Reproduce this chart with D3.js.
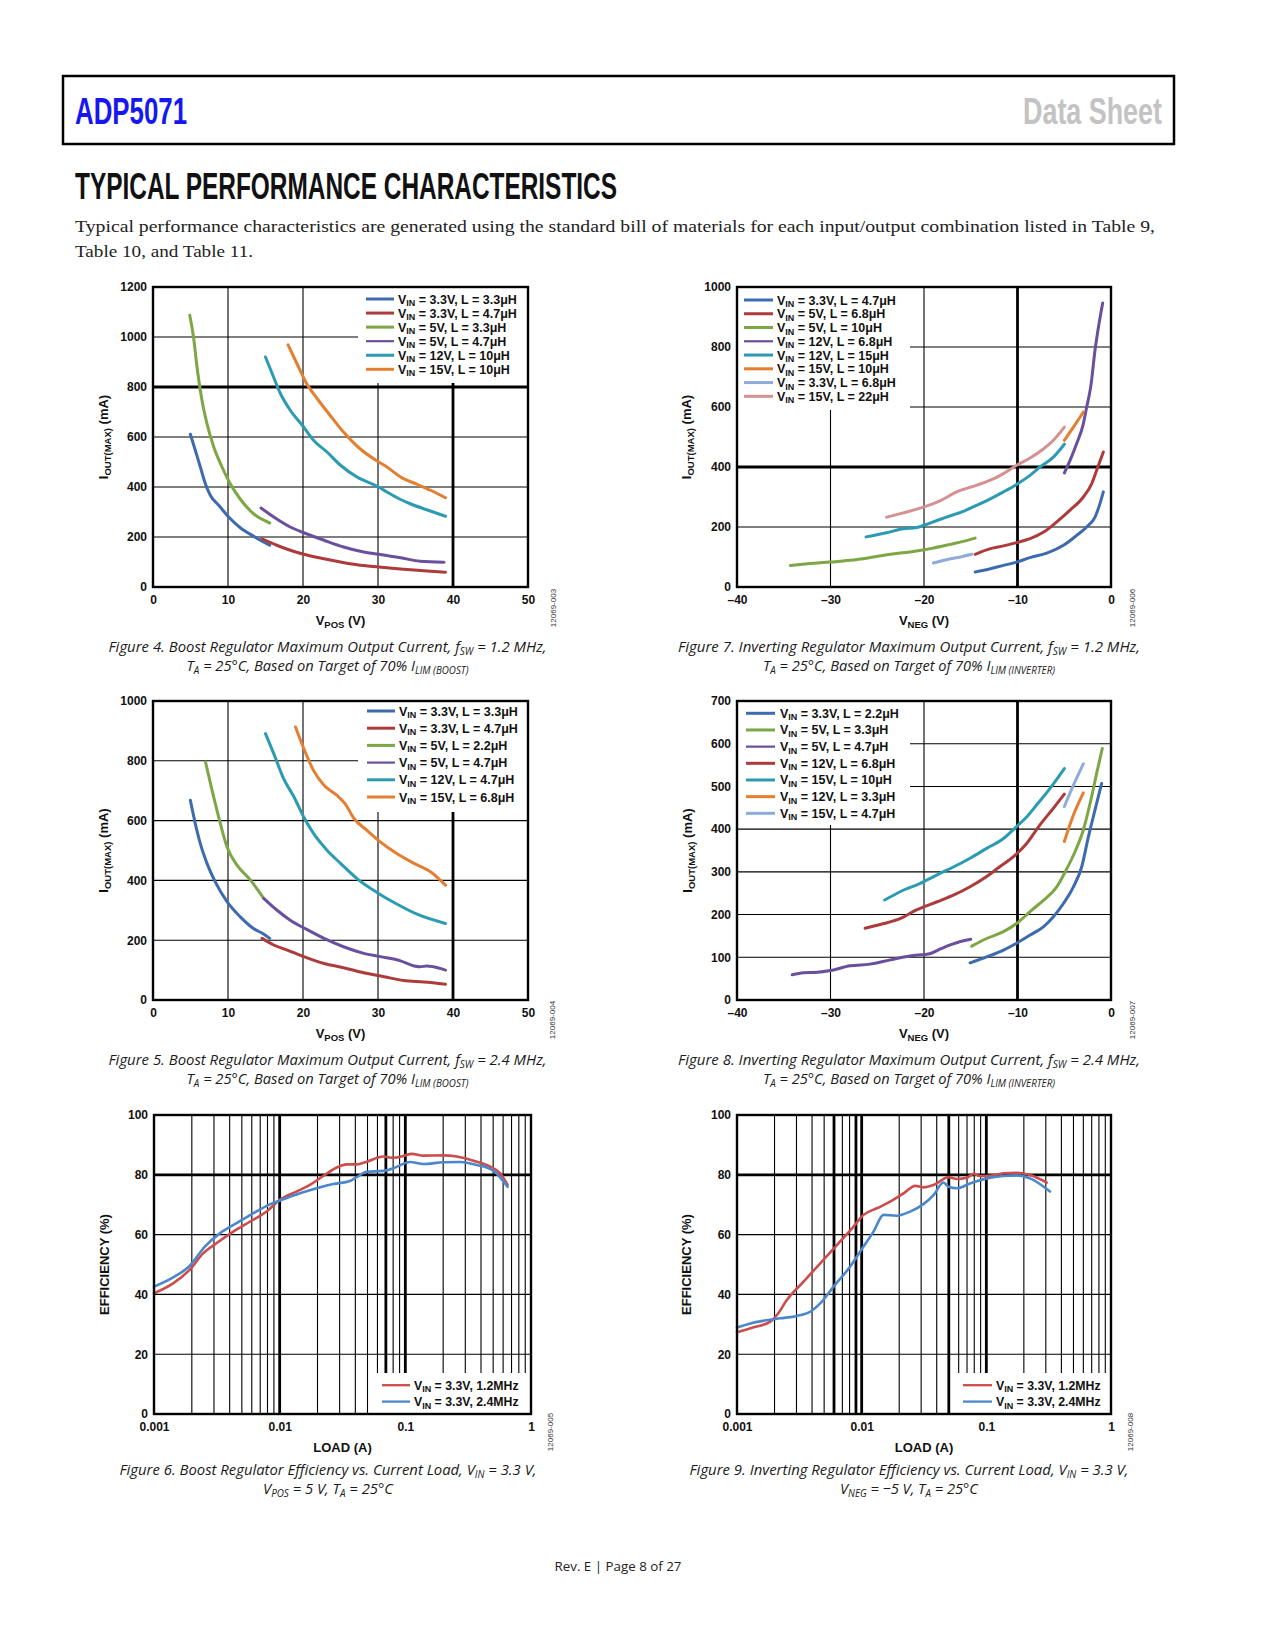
<!DOCTYPE html>
<html><head><meta charset="utf-8">
<script src="https://cdn.jsdelivr.net/npm/d3@7"></script>
<style>body{margin:0;background:#fff}svg{display:block}</style>
</head><body>
<script>
// ---------------- DATA ----------------
// Figure 4: boost, fsw = 1.2 MHz  (x = VPOS V, y = IOUT(MAX) mA)
const fig4_a = [[4.98,611],[5.64,547],[6.31,480],[6.98,413],[7.64,367],[8.76,327],[10.09,280],[11.64,237],[13.42,203],[15.56,167]];
const fig4_b = [[14.53,193],[16.5,167],[18.3,147],[20.1,131],[22.8,113],[25,100],[27.2,89],[30.1,80],[33,72],[36.1,65],[39,59]];
const fig4_c = [[4.9,1087],[5.4,1000],[5.87,880],[6.53,747],[7.2,653],[8.1,560],[9.2,480],[10.3,413],[11.6,353],[13.4,293],[15.56,256]];
const fig4_d = [[14.4,316],[16.1,280],[18.3,240],[20.1,217],[22.8,187],[25.4,160],[28.1,140],[30.1,131],[33,117],[35.6,103],[38.8,99]];
const fig4_e = [[15,920],[15.9,853],[17,773],[18.3,707],[19.9,647],[21.4,587],[23.2,540],[25,487],[27.2,440],[29.9,403],[31.2,380],[32.8,353],[34.3,333],[36.5,309],[39,283]];
const fig4_f = [[18,969],[19.2,893],[20.5,813],[21.9,753],[23.6,687],[25.4,620],[27.6,553],[30.1,500],[31.2,480],[33,440],[35.2,411],[37,387],[39,357]];
const fig4Labels = [["3.3V","3.3μH"],["3.3V","4.7μH"],["5V","3.3μH"],["5V","4.7μH"],["12V","10μH"],["15V","10μH"]];

// Figure 7: inverting, fsw = 1.2 MHz (x = VNEG V)
const fig7_a = [[-14.53,50],[-12.9,61],[-11.5,72],[-10.1,83],[-8.66,98],[-6.87,113],[-5.09,139],[-3.67,172],[-2.6,200],[-1.71,233],[-1.18,278],[-0.82,317]];
const fig7_b = [[-14.53,109],[-12.9,128],[-11.5,137],[-10.1,148],[-8.66,161],[-7.2,183],[-5.8,217],[-4.38,256],[-2.96,300],[-2.07,344],[-1.53,389],[-0.82,450]];
const fig7_c = [[-34.3,72],[-32.2,78],[-30,83],[-27.9,89],[-25.8,98],[-23.6,109],[-21.5,117],[-19.3,128],[-17.2,142],[-15.8,152],[-14.53,163]];
const fig7_d = [[-4.99,380],[-4.38,422],[-3.67,478],[-2.96,544],[-2.6,600],[-2.17,667],[-1.71,789],[-1.28,878],[-0.89,947]];
const fig7_e = [[-26.2,167],[-24,181],[-22.2,194],[-20.8,198],[-19.3,214],[-17.6,233],[-15.8,252],[-14.4,272],[-12.9,294],[-11.5,317],[-10.1,342],[-8.66,372],[-7.6,400],[-6.16,433],[-4.99,476]];
const fig7_f = [[-4.99,489],[-4.02,533],[-2.96,583]];
const fig7_g = [[-19,80],[-17.6,91],[-16.1,100],[-14.9,109]];
const fig7_h = [[-24,233],[-22.2,247],[-20,267],[-18.3,287],[-16.5,317],[-14.4,339],[-12.9,356],[-11.5,378],[-10.1,406],[-8.66,430],[-7.2,461],[-6.16,489],[-4.99,533]];
const fig7Labels = [["3.3V","4.7μH"],["5V","6.8μH"],["5V","10μH"],["12V","6.8μH"],["12V","15μH"],["15V","10μH"],["3.3V","6.8μH"],["15V","22μH"]];

// Figure 5: boost, fsw = 2.4 MHz
const fig5_a = [[4.98,668],[5.64,590],[6.31,523],[7.2,457],[8.3,395],[9.87,329],[11.64,278],[13.4,239],[14.8,220],[15.56,206]];
const fig5_b = [[14.53,206],[16.1,184],[17.9,167],[20.1,145],[22.8,122],[25.4,108],[28.1,91],[30.8,78],[33.4,65],[36.1,60],[39,53]];
const fig5_c = [[7,796],[7.87,702],[8.76,612],[9.87,512],[11.2,451],[13,401],[14.76,340]];
const fig5_d = [[14.76,340],[16.5,301],[18.3,267],[20.5,236],[22.8,206],[25.4,178],[28.1,156],[30.3,145],[33,131],[34.8,114],[35.6,111],[36.5,114],[37.4,111],[39,100]];
const fig5_e = [[15,891],[16.1,824],[17.4,741],[18.8,679],[20.1,612],[21.4,557],[23.2,501],[25,457],[27.2,406],[29.9,359],[32.5,321],[35.2,287],[39,256]];
const fig5_f = [[19,913],[20.1,841],[21.4,768],[22.8,718],[24.5,685],[25.6,657],[26.8,607],[28.5,568],[30.3,529],[32.5,490],[34.8,457],[37,429],[39,384]];
const fig5Labels = [["3.3V","3.3μH"],["3.3V","4.7μH"],["5V","2.2μH"],["5V","4.7μH"],["12V","4.7μH"],["15V","6.8μH"]];

// Figure 8: inverting, fsw = 2.4 MHz
const fig8_a = [[-15.07,87],[-13.3,101],[-11.5,117],[-10.1,133],[-8.66,152],[-7.2,172],[-6.16,195],[-5.09,226],[-4.02,265],[-3.13,312],[-2.42,382],[-1.71,445],[-1,507]];
const fig8_b = [[-14.9,126],[-13.3,144],[-11.5,160],[-10.1,179],[-8.66,207],[-7.2,234],[-5.8,265],[-4.9,300],[-3.85,347],[-2.96,398],[-2.24,460],[-1.53,531],[-0.93,589]];
const fig8_c = [[-34.1,59],[-32.9,64],[-31.4,65],[-30,69],[-27.9,80],[-25.8,84],[-23.6,94],[-21.5,103],[-19.3,109],[-18.3,119],[-17.2,129],[-16.1,137],[-15,142]];
const fig8_d = [[-26.3,168],[-24.3,179],[-22.5,191],[-20.8,211],[-18.6,230],[-16.8,246],[-15.07,265],[-13.3,289],[-11.9,312],[-10.4,336],[-9,367],[-7.6,410],[-6.16,449],[-4.99,482]];
const fig8_e = [[-24.2,234],[-22.5,254],[-20.4,273],[-18.6,293],[-16.8,312],[-15.07,332],[-13.3,355],[-11.5,378],[-10.1,406],[-9,429],[-7.94,457],[-6.5,496],[-4.99,542]];
const fig8_f = [[-4.99,371],[-4.02,433],[-2.96,485]];
const fig8_g = [[-4.99,453],[-4.02,503],[-2.96,553]];
const fig8Labels = [["3.3V","2.2μH"],["5V","3.3μH"],["5V","4.7μH"],["12V","6.8μH"],["15V","10μH"],["12V","3.3μH"],["15V","4.7μH"]];

// Figure 6: boost efficiency (x = load A, y = %)
const fig6_a = [[0.001,40.4],[0.00142,43.7],[0.00192,48.2],[0.00246,53.7],[0.00314,57.1],[0.00427,61],[0.00579,64.3],[0.00787,67.7],[0.01,71.6],[0.0136,74.4],[0.0174,76.6],[0.0222,79.6],[0.0293,82.7],[0.0341,83.5],[0.041,83.5],[0.0493,84.4],[0.067,86.1],[0.0804,85.7],[0.0966,86.3],[0.1125,87],[0.139,86.4],[0.201,86.5],[0.257,86.1],[0.349,84.7],[0.474,82.7],[0.569,80.5],[0.651,76.6]];
const fig6_b = [[0.001,42.6],[0.00142,45.7],[0.00192,49.5],[0.00254,56],[0.00334,60.4],[0.00453,63.8],[0.00615,67.1],[0.00836,70.1],[0.0107,71.8],[0.0145,73.8],[0.0197,75.5],[0.0267,76.9],[0.0363,77.9],[0.041,79.2],[0.0493,81],[0.067,81.3],[0.0804,82.2],[0.109,84.3],[0.139,83.6],[0.201,84.2],[0.273,84.3],[0.371,83.3],[0.504,81.3],[0.651,76]];
const fig6Labels = ["1.2MHz","2.4MHz"];

// Figure 9: inverting efficiency
const fig9_a = [[0.001,27.3],[0.00136,29],[0.00185,30.9],[0.00209,33.1],[0.00251,38.1],[0.00342,44.3],[0.00465,50.4],[0.00633,56.5],[0.00861,62.7],[0.01035,66.6],[0.01325,68.8],[0.0169,71],[0.0217,73.8],[0.0269,76.3],[0.0313,75.8],[0.0377,76.6],[0.0497,79.2],[0.058,78.6],[0.0697,79],[0.0789,80.3],[0.0891,79.6],[0.107,79.7],[0.137,80.5],[0.175,80.7],[0.224,79.9],[0.305,77.4]];
const fig9_b = [[0.001,28.9],[0.00128,30.3],[0.00164,31.2],[0.00222,32],[0.00303,32.8],[0.00387,34.2],[0.00465,37],[0.00595,42.6],[0.00809,49.3],[0.01035,56],[0.01245,61],[0.01497,66.6],[0.0191,66.3],[0.0245,67.7],[0.0313,70.2],[0.0377,73.2],[0.0453,77.4],[0.0497,76],[0.058,75.5],[0.0741,77.1],[0.1009,78.8],[0.137,79.6],[0.175,79.8],[0.224,78.8],[0.324,74.4]];
const fig9Labels = ["1.2MHz","2.4MHz"];

// ticks
const linTicksPos = [0,10,20,30,40,50];
const linTicksNeg = [-40,-30,-20,-10,0];
const iTicks1200 = [0,200,400,600,800,1000,1200];
const iTicks1000 = [0,200,400,600,800,1000];
const iTicks700 = [0,100,200,300,400,500,600,700];
const effTicks = [0,20,40,60,80,100];
const loadTicks = [0.001,0.01,0.1,1];

// ---------------- STYLE ----------------
const C = {blue:"#3d6bae", red:"#ad3b3c", green:"#7ca744", purple:"#6a4f9c", teal:"#2b9bb2", orange:"#e47e30", lblue:"#8eabd9", pink:"#d59191", effRed:"#cd4c4c", effBlue:"#4a87cb"};
const SANS = "'Liberation Sans', Arial, sans-serif";

const svg = d3.select("body").append("svg").attr("width",1275).attr("height",1650);

function rich(sel, parts, subSize, subDy){
  let shifted = false;
  parts.forEach(p=>{
    const t = sel.append("tspan").text(p[0]);
    if(p[1]){ t.attr("font-size",subSize); if(!shifted){t.attr("dy",subDy); shifted=true;} }
    else if(shifted){ t.attr("dy",-subDy); shifted=false; }
  });
}

// ---------------- HEADER ----------------
svg.append("rect").attr("x",63).attr("y",76).attr("width",1111).attr("height",68)
  .attr("fill","none").attr("stroke","#000").attr("stroke-width",2.5);
svg.append("text").attr("x",75).attr("y",124).attr("font-family",SANS).attr("font-weight","bold")
  .attr("font-size",36).attr("fill","#1717f0").attr("textLength",112).attr("lengthAdjust","spacingAndGlyphs").text("ADP5071");
svg.append("text").attr("x",1162).attr("y",124).attr("text-anchor","end").attr("font-family",SANS).attr("font-weight","bold")
  .attr("font-size",36).attr("fill","#c3c3c3").attr("textLength",139).attr("lengthAdjust","spacingAndGlyphs").text("Data Sheet");
svg.append("text").attr("x",75).attr("y",199).attr("font-family",SANS).attr("font-weight","bold")
  .attr("font-size",37).attr("fill","#111").attr("textLength",542).attr("lengthAdjust","spacingAndGlyphs").text("TYPICAL PERFORMANCE CHARACTERISTICS");
svg.append("text").attr("x",75).attr("y",232).attr("font-family","'Liberation Serif', serif").attr("font-size",17)
  .attr("fill","#222").attr("textLength",1080).attr("lengthAdjust","spacingAndGlyphs")
  .text("Typical performance characteristics are generated using the standard bill of materials for each input/output combination listed in Table 9,");
svg.append("text").attr("x",75).attr("y",257).attr("font-family","'Liberation Serif', serif").attr("font-size",17)
  .attr("fill","#222").attr("textLength",178).attr("lengthAdjust","spacingAndGlyphs").text("Table 10, and Table 11.");
svg.append("text").attr("x",618).attr("y",1571).attr("text-anchor","middle").attr("font-family","'Open Sans', sans-serif")
  .attr("font-size",13.5).attr("fill","#222").attr("textLength",127).attr("lengthAdjust","spacingAndGlyphs").text("Rev. E | Page 8 of 27");

// ---------------- CHART ----------------
function near(a,b){return Math.abs(a-b) < 1e-9 + Math.abs(b)*1e-6;}

function drawChart(o){
  const g = svg.append("g");
  const x = (o.log ? d3.scaleLog() : d3.scaleLinear()).domain(o.xDomain).range([o.L,o.R]);
  const y = d3.scaleLinear().domain(o.yDomain).range([o.B,o.T]);
  o.xGrid.forEach(v=>{
    const bold = o.boldX.some(b=>near(v,b));
    g.append("line").attr("x1",x(v)).attr("x2",x(v)).attr("y1",o.T).attr("y2",o.B)
      .attr("stroke","#000").attr("stroke-width",bold?2.8:1.1);
  });
  o.yGrid.forEach(v=>{
    const bold = o.boldY.some(b=>near(v,b));
    g.append("line").attr("x1",o.L).attr("x2",o.R).attr("y1",y(v)).attr("y2",y(v))
      .attr("stroke","#000").attr("stroke-width",bold?2.8:1.1);
  });
  const lb = o.legend.box;
  g.append("rect").attr("x",lb[0]).attr("y",lb[1]).attr("width",lb[2]-lb[0]).attr("height",lb[3]-lb[1]).attr("fill","#fff");
  const line = d3.line().x(d=>x(d[0])).y(d=>y(d[1])).curve(d3.curveMonotoneX);
  o.series.forEach((s,i)=>{
    g.append("path").attr("d",line(s)).attr("fill","none").attr("stroke",o.colors[i])
      .attr("stroke-width",o.lw).attr("stroke-linejoin","round").attr("stroke-linecap","round");
  });
  const L = o.legend;
  o.legendText.forEach((parts,i)=>{
    const yy = L.y0 + i*L.dy;
    const col = o.legendColors[i];
    g.append("line").attr("x1",L.x1).attr("x2",L.x2).attr("y1",yy).attr("y2",yy)
      .attr("stroke",col).attr("stroke-width",col===C.purple?2.2:o.legendLw);
    const t = g.append("text").attr("x",L.tx).attr("y",yy+4.5).attr("font-family",SANS)
      .attr("font-weight","bold").attr("font-size",L.fs||12.5).attr("fill","#111");
    rich(t, parts, 9, 2.5);
  });
  g.append("rect").attr("x",o.L).attr("y",o.T).attr("width",o.R-o.L).attr("height",o.B-o.T)
    .attr("fill","none").attr("stroke","#000").attr("stroke-width",2.4);
  const ax = g.append("g").attr("transform",`translate(0,${o.B})`)
    .call(d3.axisBottom(x).tickValues(o.xTicks).tickSize(0).tickPadding(8).tickFormat(o.xFmt));
  const ay = g.append("g").attr("transform",`translate(${o.L},0)`)
    .call(d3.axisLeft(y).tickValues(o.yTicks).tickSize(0).tickPadding(6).tickFormat(d=>d));
  [ax,ay].forEach(a=>{
    a.select(".domain").remove();
    a.selectAll("text").attr("font-family",SANS).attr("font-weight","bold").attr("font-size",12).attr("fill","#111");
  });
  const xt = g.append("text").attr("x",(o.L+o.R)/2).attr("y",o.B+38).attr("text-anchor","middle")
    .attr("font-family",SANS).attr("font-weight","bold").attr("font-size",13).attr("fill","#111");
  rich(xt, o.xTitle, 9.5, 3);
  const yt = g.append("text").attr("transform",`translate(${o.yTitleX},${(o.T+o.B)/2}) rotate(-90)`)
    .attr("text-anchor","middle").attr("font-family",SANS).attr("font-weight","bold").attr("font-size",13).attr("fill","#111");
  rich(yt, o.yTitle, 9.5, 3);
  g.append("text").attr("transform",`translate(${o.code[0]+3},${o.code[1]}) rotate(-90)`).attr("text-anchor","middle")
    .attr("font-family",SANS).attr("font-size",8).attr("fill","#333").text(o.code[2]);
  o.caption.forEach((c,i)=>{
    const t = g.append("text").attr("x",o.capX).attr("y",o.capY + i*19).attr("text-anchor","middle")
      .attr("font-family","'Open Sans', sans-serif").attr("font-style","italic").attr("font-size",15).attr("fill","#1a1a1a")
      .attr("textLength",c.w).attr("lengthAdjust","spacingAndGlyphs");
    rich(t, c.parts, 10, 2.5);
  });
}

const negFmt = d => d<0 ? "\u2013"+Math.abs(d) : String(d);
const vinParts = l => [["V"],["IN",1],[` = ${l[0]}, L = ${l[1]}`]];
const effParts = l => [["V"],["IN",1],[` = 3.3V, ${l}`]];
const iTitle = [["I"],["OUT(MAX)",1],[" (mA)"]];
const logGrid = []; [0.001,0.01,0.1].forEach(d=>{for(let k=1;k<=9;k++) if(!(d===0.001&&k===1)) logGrid.push(d*k);});

// Figure 4
drawChart({L:153,R:528,T:287,B:587,xDomain:[0,50],yDomain:[0,1200],xGrid:[10,20,30,40],yGrid:[200,400,600,800,1000],
  boldX:[40],boldY:[800],xTicks:linTicksPos,yTicks:iTicks1200,xFmt:negFmt,
  series:[fig4_a,fig4_b,fig4_c,fig4_d,fig4_e,fig4_f],colors:[C.blue,C.red,C.green,C.purple,C.teal,C.orange],lw:3,
  legend:{box:[358,287,528,383],x1:366,x2:394,tx:398,y0:299,dy:14.06},legendColors:[C.blue,C.red,C.green,C.purple,C.teal,C.orange],legendLw:3,
  legendText:fig4Labels.map(vinParts),
  xTitle:[["V"],["POS",1],[" (V)"]],yTitle:iTitle,yTitleX:108,code:[553,608,"12069-003"],
  capX:327.5,capY:652,caption:[{w:438,parts:[["Figure 4. Boost Regulator Maximum Output Current, f"],["SW",1],[" = 1.2 MHz,"]]},
    {w:282,parts:[["T"],["A",1],[" = 25°C, Based on Target of 70% I"],["LIM (BOOST)",1]]}]});

// Figure 7
drawChart({L:737,R:1111,T:287,B:587,xDomain:[-40,0],yDomain:[0,1000],xGrid:[-30,-20,-10],yGrid:[200,400,600,800],
  boldX:[-10],boldY:[400],xTicks:linTicksNeg,yTicks:iTicks1000,xFmt:negFmt,
  series:[fig7_a,fig7_b,fig7_c,fig7_d,fig7_e,fig7_f,fig7_g,fig7_h],colors:[C.blue,C.red,C.green,C.purple,C.teal,C.orange,C.lblue,C.pink],lw:3,
  legend:{box:[737,287,910,410],x1:744,x2:773,tx:777,y0:300,dy:13.76},legendColors:[C.blue,C.red,C.green,C.purple,C.teal,C.orange,C.lblue,C.pink],legendLw:3,
  legendText:fig7Labels.map(vinParts),
  xTitle:[["V"],["NEG",1],[" (V)"]],yTitle:iTitle,yTitleX:691,code:[1132,608,"12069-006"],
  capX:909,capY:652,caption:[{w:462,parts:[["Figure 7. Inverting Regulator Maximum Output Current, f"],["SW",1],[" = 1.2 MHz,"]]},
    {w:292,parts:[["T"],["A",1],[" = 25°C, Based on Target of 70% I"],["LIM (INVERTER)",1]]}]});

// Figure 5
drawChart({L:153,R:528,T:701,B:1000,xDomain:[0,50],yDomain:[0,1000],xGrid:[10,20,30,40],yGrid:[200,400,600,800],
  boldX:[40],boldY:[],xTicks:linTicksPos,yTicks:iTicks1000,xFmt:negFmt,
  series:[fig5_a,fig5_b,fig5_c,fig5_d,fig5_e,fig5_f],colors:[C.blue,C.red,C.green,C.purple,C.teal,C.orange],lw:3,
  legend:{box:[358,701,528,812],x1:367,x2:395,tx:399,y0:711,dy:17.2},legendColors:[C.blue,C.red,C.green,C.purple,C.teal,C.orange],legendLw:3,
  legendText:fig5Labels.map(vinParts),
  xTitle:[["V"],["POS",1],[" (V)"]],yTitle:iTitle,yTitleX:108,code:[552,1020,"12069-004"],
  capX:327.5,capY:1065,caption:[{w:438,parts:[["Figure 5. Boost Regulator Maximum Output Current, f"],["SW",1],[" = 2.4 MHz,"]]},
    {w:282,parts:[["T"],["A",1],[" = 25°C, Based on Target of 70% I"],["LIM (BOOST)",1]]}]});

// Figure 8
drawChart({L:737,R:1111,T:701,B:1000,xDomain:[-40,0],yDomain:[0,700],xGrid:[-30,-20,-10],yGrid:[100,200,300,400,500,600],
  boldX:[-10],boldY:[],xTicks:linTicksNeg,yTicks:iTicks700,xFmt:negFmt,
  series:[fig8_a,fig8_b,fig8_c,fig8_d,fig8_e,fig8_f,fig8_g],colors:[C.blue,C.green,C.purple,C.red,C.teal,C.orange,C.lblue],lw:3,
  legend:{box:[737,701,910,825],x1:746,x2:775,tx:780,y0:713.3,dy:16.67},legendColors:[C.blue,C.green,C.purple,C.red,C.teal,C.orange,C.lblue],legendLw:3,
  legendText:fig8Labels.map(vinParts),
  xTitle:[["V"],["NEG",1],[" (V)"]],yTitle:iTitle,yTitleX:692,code:[1132,1020,"12069-007"],
  capX:909,capY:1065,caption:[{w:462,parts:[["Figure 8. Inverting Regulator Maximum Output Current, f"],["SW",1],[" = 2.4 MHz,"]]},
    {w:292,parts:[["T"],["A",1],[" = 25°C, Based on Target of 70% I"],["LIM (INVERTER)",1]]}]});

// Figure 6
drawChart({L:154,R:531,T:1115,B:1414,log:true,xDomain:[0.001,1],yDomain:[0,100],xGrid:logGrid,yGrid:[20,40,60,80],
  boldX:[0.01,0.07,0.1],boldY:[80],xTicks:loadTicks,yTicks:effTicks,xFmt:d=>String(d),
  series:[fig6_a,fig6_b],colors:[C.effRed,C.effBlue],lw:2.6,
  legend:{box:[375,1373,531,1414],x1:382,x2:410,tx:414,y0:1385.2,dy:16.4,fs:12.3},legendColors:[C.effRed,C.effBlue],legendLw:2.3,
  legendText:fig6Labels.map(effParts),
  xTitle:[["LOAD (A)"]],yTitle:[["EFFICIENCY (%)"]],yTitleX:109,code:[550,1432,"12069-005"],
  capX:328,capY:1475,caption:[{w:417,parts:[["Figure 6. Boost Regulator Efficiency vs. Current Load, V"],["IN",1],[" = 3.3 V,"]]},
    {w:130,parts:[["V"],["POS",1],[" = 5 V, T"],["A",1],[" = 25°C"]]}]});

// Figure 9
drawChart({L:737,R:1111,T:1115,B:1414,log:true,xDomain:[0.001,1],yDomain:[0,100],xGrid:logGrid,yGrid:[20,40,60,80],
  boldX:[0.006,0.009,0.01,0.05,0.1],boldY:[80],xTicks:loadTicks,yTicks:effTicks,xFmt:d=>String(d),
  series:[fig9_a,fig9_b],colors:[C.effRed,C.effBlue],lw:2.6,
  legend:{box:[956,1373,1111,1414],x1:963,x2:992,tx:996,y0:1385.2,dy:16.4,fs:12.3},legendColors:[C.effRed,C.effBlue],legendLw:2.3,
  legendText:fig9Labels.map(effParts),
  xTitle:[["LOAD (A)"]],yTitle:[["EFFICIENCY (%)"]],yTitleX:691,code:[1130,1432,"12069-008"],
  capX:909,capY:1475,caption:[{w:439,parts:[["Figure 9. Inverting Regulator Efficiency vs. Current Load, V"],["IN",1],[" = 3.3 V,"]]},
    {w:138,parts:[["V"],["NEG",1],[" = \u22125 V, T"],["A",1],[" = 25°C"]]}]});
</script>
</body></html>
